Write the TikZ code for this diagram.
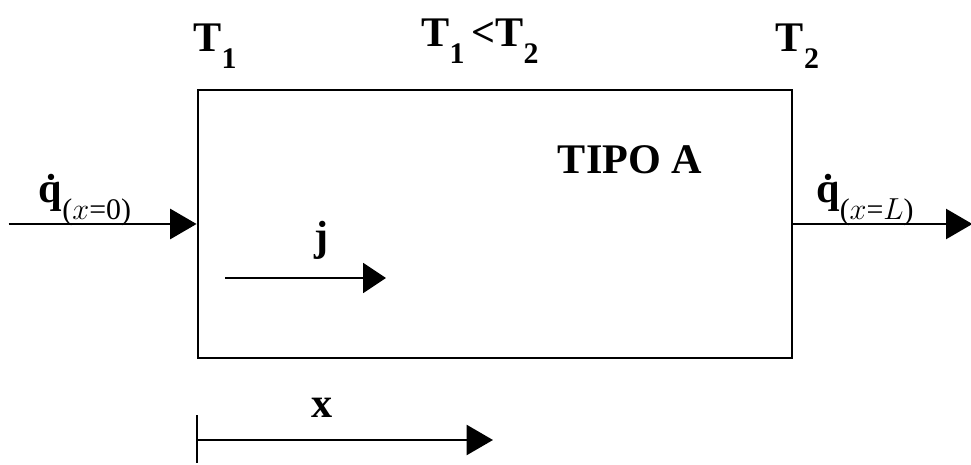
\documentclass[tikz,border=0pt]{standalone}
\usepackage{fontspec}
\setmainfont{Liberation Serif}
\usetikzlibrary{arrows.meta, positioning}
\newcommand{\lowsub}[1]{\raisebox{-0.4em}{\fontsize{17}{18}\selectfont #1}}

\begin{document}
\begin{tikzpicture}[
    every node/.style={font=\fontsize{24}{28}\selectfont\bfseries, inner sep=0pt},
    flow/.style={line width=1.6pt, -{Triangle[length=15pt,width=17pt]}},
    thinflow/.style={line width=1.1pt, -{Triangle[length=13pt,width=17pt]}}
  ]
  \useasboundingbox (0,0) rectangle (19.42,-9.3);

  \node[draw, line width=1.6pt, minimum width=11.88cm, minimum height=5.36cm] (box) at (9.9,-4.48) {};

  % Temperatures
  \node (t1) at (4.3,-0.92) {T\lowsub{1}};
  \node (t12) at (9.6,-0.82) {T\lowsub{1}\,<T\lowsub{2}};
  \node (t2) at (15.95,-0.92) {T\lowsub{2}};
  \node (tipo) at (12.6,-3.2) {TIPO A};

  % Heat flows
  \coordinate (qin) at ([xshift=-3.76cm]box.west);
  \coordinate (qout) at ([xshift=3.58cm]box.east);
  \draw[flow] (qin) -- (box.west);
  \draw[flow] (box.east) -- (qout);
  \node (qinlabel) at (1.7,-4.0) {\.q\lowsub{\mdseries($x$=0)}};
  \node (qoutlabel) at (17.3,-4.0) {\.q\lowsub{\mdseries($x$=$L$)}};

  % Flux j
  \coordinate (j1) at (4.5,-5.56);
  \coordinate (j2) at (7.72,-5.56);
  \draw[thinflow] (j1) -- (j2);
  \node (jlabel) at (6.44,-4.8) {j};

  % Axis x
  \coordinate (x0) at (box.south west |- 0,-8.8);
  \coordinate (x1) at (9.86,-8.8);
  \draw[line width=1.2pt] ([yshift=0.5cm]x0) -- ([yshift=-0.45cm]x0);
  \draw[flow] (x0) -- (x1);
  \node (xlabel) at (6.44,-8.15) {x};
\end{tikzpicture}
\end{document}
